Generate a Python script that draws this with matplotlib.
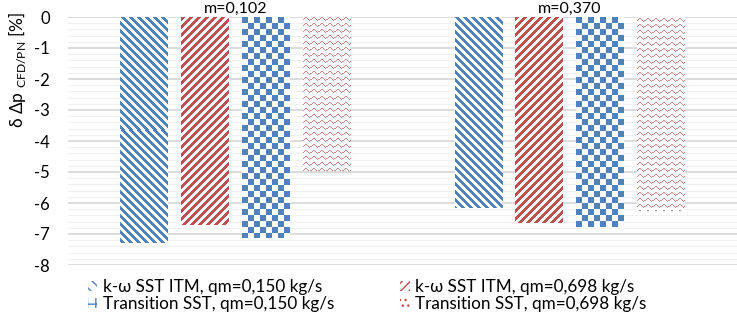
import numpy as np
import matplotlib
matplotlib.use("Agg")
import matplotlib.pyplot as plt
from matplotlib.patches import Patch
from matplotlib.ticker import MultipleLocator
from matplotlib.colors import to_rgba

plt.rcParams['font.family'] = ['Lato', 'DejaVu Sans']

# data
groups = ["m=0,102", "m=0,370"]
series = ["k-ω SST ITM, qm=0,150 kg/s", "k-ω SST ITM, qm=0,698 kg/s",
          "Transition SST, qm=0,150 kg/s", "Transition SST, qm=0,698 kg/s"]
kw_150 = [-7.3, -6.15]
kw_698 = [-6.7, -6.63]
tr_150 = [-7.12, -6.76]
tr_698 = [-4.98, -6.25]
values = [kw_150, kw_698, tr_150, tr_698]

BLUE = '#4F81BD'
RED = '#C0504D'
colors = [BLUE, RED, BLUE, RED]
patterns = ['down', 'up', 'checker', 'wave']

WAVE = ["........",
        "..##....",
        ".#..#...",
        "#....#.#",
        "......#.",
        "........"]


def pattern(name, h, w):
    yy, xx = np.mgrid[0:h, 0:w]
    if name == 'down':
        return ((xx - yy) % 8) < 4
    if name == 'up':
        return ((xx + yy) % 8) < 4
    if name == 'checker':
        return ((xx // 6 + yy // 6) % 2) == 0
    tile = np.array([[c == '#' for c in row] for row in WAVE])
    th, tw = tile.shape
    return tile[yy % th, xx % tw]


fig = plt.figure(figsize=(7.37, 3.22), dpi=100)
ax = fig.add_axes([68 / 737, 1 - 265 / 322, 1 - 68 / 737, (265 - 17) / 322])

x = np.arange(len(groups))
width = 0.143
step = 0.182
bars = []
for i, vals in enumerate(values):
    b = ax.bar(x + (i - 1.5) * step, vals, width, color='white', linewidth=0, zorder=2)
    bars.append(b)

ax.set_xlim(-0.5, 1.5)
ax.set_ylim(-8, 0)

# pattern fills drawn as pixel textures clipped to each bar
for b, pat, col in zip(bars, patterns, colors):
    for r in b:
        bb = r.get_window_extent()
        w = max(int(round(bb.width)), 1)
        h = max(int(round(bb.height)), 1)
        mask = pattern(pat, h, w)
        rgba = np.zeros((h, w, 4))
        rgba[mask] = to_rgba(col, 0.7 if pat == 'wave' else 1.0)
        x0 = r.get_x()
        y0 = r.get_y()
        im = ax.imshow(rgba, extent=(x0, x0 + r.get_width(), y0 + r.get_height(), y0),
                       interpolation='nearest', aspect='auto', zorder=3)
        im.set_clip_path(r)

ax.set_xlim(-0.5, 1.5)
ax.set_ylim(-8, 0)

ax.yaxis.set_major_locator(MultipleLocator(1))
ax.yaxis.set_minor_locator(MultipleLocator(0.2))
ax.grid(which='minor', axis='y', color='#f0f0f0', linewidth=0.9, zorder=0)
ax.grid(which='major', axis='y', color='#d9d9d9', linewidth=1.3, zorder=0)
ax.set_axisbelow(True)
for s in ax.spines.values():
    s.set_visible(False)

ax.set_xticks(x)
ax.set_xticklabels(groups, fontsize=11.5)
ax.xaxis.tick_top()
ax.tick_params(axis='x', length=0, pad=1)
ax.tick_params(axis='y', which='both', length=0, pad=13, labelsize=12)
ax.set_yticklabels([f"{int(v)}" for v in ax.get_yticks()])

fig.text(17 / 737, 1 - 70 / 322, r"δ Δp $_{\mathregular{CFD/PN}}$ [%]", rotation=90,
         ha='center', va='center', fontsize=12.5)

handles = [
    Patch(facecolor='white', edgecolor=BLUE, hatch='\\\\\\', linewidth=0),
    Patch(facecolor='white', edgecolor=BLUE, hatch='++', linewidth=0),
    Patch(facecolor='white', edgecolor=RED, hatch='////', linewidth=0),
    Patch(facecolor='white', edgecolor=RED, hatch='...', linewidth=0),
]
labels = [series[0], series[2], series[1], series[3]]
fig.legend(handles, labels, loc='upper left', bbox_to_anchor=(88 / 737, 1 - 279 / 322),
           ncol=2, frameon=False, fontsize=12.3, handlelength=0.55, handleheight=0.55,
           handletextpad=0.3, columnspacing=3.9, labelspacing=0.05, borderpad=0,
           borderaxespad=0)

fig.savefig("out.png", dpi=100)
